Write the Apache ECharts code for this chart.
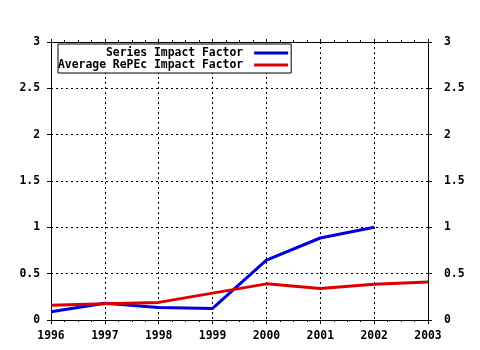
<!DOCTYPE html>
<html><head><meta charset="utf-8">
<script src="https://cdn.jsdelivr.net/npm/echarts@6/dist/echarts.min.js"></script>
<style>html,body{margin:0;padding:0;background:#fff}#c{width:480px;height:350px}</style>
</head><body><div id="c"></div>
<script>
const years = [1996, 1997, 1998, 1999, 2000, 2001, 2002, 2003];
const seriesImpact = [0.09, 0.18, 0.135, 0.125, 0.645, 0.885, 1.0];
const averageRePEc = [0.16, 0.175, 0.19, 0.29, 0.39, 0.34, 0.385, 0.41];
const seriesNames = ['Series Impact Factor', 'Average RePEc Impact Factor'];

const font = 'DejaVu Sans Mono';
const lbl = {color: '#000', fontFamily: font, fontWeight: 'bold', fontSize: 11.4};
const fmtY = v => String(v);
const chart = echarts.init(document.getElementById('c'), null, {renderer: 'canvas'});
const pairs = (arr) => arr.map((v, i) => [years[i], v]);
const dotted = {show: true, lineStyle: {color: '#000', type: [2, 3], width: 1}};
chart.setOption({
  animation: false,
  backgroundColor: '#fff',
  grid: {left: 51, right: 52, top: 42, bottom: 30, containLabel: false},
  legend: {
    orient: 'vertical', left: 58, top: 44, align: 'right',
    backgroundColor: '#fff', borderColor: '#000', borderWidth: 1,
    padding: [3, 3, 2, 0], itemGap: 0, itemWidth: 34, itemHeight: 3,
    icon: 'rect',
    textStyle: Object.assign({}, lbl, {width: 184, align: 'right', overflow: 'none', padding: [0, 6, 0, 0], lineHeight: 12}),
    data: seriesNames
  },
  xAxis: [{
    type: 'value', min: years[0], max: years[years.length - 1], interval: 1,
    position: 'bottom',
    axisLine: {show: true, onZero: false, lineStyle: {color: '#000', width: 1}},
    axisTick: {show: true, length: 4, lineStyle: {color: '#000'}},
    minorTick: {show: true, splitNumber: 4, length: 2, lineStyle: {color: '#000'}},
    axisLabel: Object.assign({}, lbl, {margin: 11, formatter: v => String(v)}),
    splitLine: dotted
  }, {
    type: 'value', min: years[0], max: years[years.length - 1], interval: 1,
    position: 'top',
    axisLine: {show: true, onZero: false, lineStyle: {color: '#000', width: 1}},
    axisTick: {show: true, length: 3, lineStyle: {color: '#000'}},
    minorTick: {show: true, splitNumber: 4, length: 2, lineStyle: {color: '#000'}},
    axisLabel: {show: false},
    splitLine: {show: false}
  }],
  yAxis: [{
    type: 'value', min: 0, max: 3, interval: 0.5, position: 'left',
    axisLine: {show: true, onZero: false, lineStyle: {color: '#000', width: 1}},
    axisTick: {show: true, length: 4, lineStyle: {color: '#000'}},
    axisLabel: Object.assign({}, lbl, {margin: 11, formatter: fmtY}),
    splitLine: dotted
  }, {
    type: 'value', min: 0, max: 3, interval: 0.5, position: 'right',
    axisLine: {show: true, onZero: false, lineStyle: {color: '#000', width: 1}},
    axisTick: {show: true, length: 4, lineStyle: {color: '#000'}},
    axisLabel: Object.assign({}, lbl, {margin: 16, formatter: fmtY}),
    splitLine: {show: false}
  }],
  series: [{
    name: seriesNames[0], type: 'line', data: pairs(seriesImpact),
    showSymbol: false, symbol: 'none', color: '#0000dd',
    lineStyle: {color: '#0000dd', width: 3}, z: 3
  }, {
    name: seriesNames[1], type: 'line', data: pairs(averageRePEc),
    showSymbol: false, symbol: 'none', color: '#dd0000',
    lineStyle: {color: '#dd0000', width: 3}, z: 4
  }]
});
</script></body></html>
